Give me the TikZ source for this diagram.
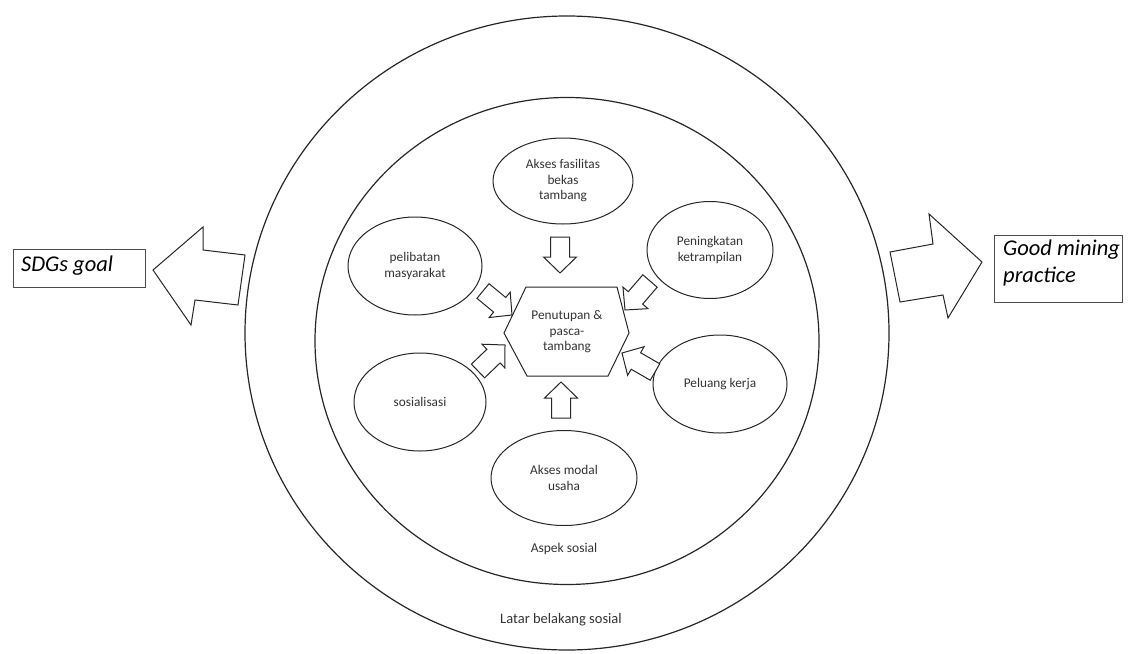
\documentclass[tikz,border=0pt]{standalone}
\usepackage{fontspec}
\setmainfont{Carlito}
\usetikzlibrary{shapes.geometric,calc}
\tikzset{
  ring/.style={draw=black!85,line width=1.2pt,ellipse,inner sep=0pt},
  topic/.style={draw=black!85,line width=1pt,ellipse,inner sep=0pt,align=center,
    font=\fontsize{13.3}{15.5}\selectfont,text=black!80},
  barrow/.style={draw=black!85,line width=1pt,fill=white,line join=miter},
  bigarrow/.style={draw=black!85,line width=1pt,fill=white},
  goaltext/.style={anchor=north west,align=left,font=\fontsize{22.5}{27}\selectfont\itshape,inner sep=0pt},
  ringlabel/.style={font=\fontsize{13.5}{15}\selectfont,text=black!80},
}
\newcommand\blockarr[2]{%
  \coordinate (hb) at ($(#2)!16pt!(#1)$);
  \draw[barrow] ($(#1)!9.5pt!90:(#2)$) -- ($(hb)!9.5pt!90:(#2)$) -- ($(hb)!16.5pt!90:(#2)$)
    -- (#2) -- ($(hb)!16.5pt!-90:(#2)$) -- ($(hb)!9.5pt!-90:(#2)$) -- ($(#1)!9.5pt!-90:(#2)$) -- cycle;}
\begin{document}
\begin{tikzpicture}[x=1pt,y=-1pt]
\useasboundingbox (0,0) rectangle (1132,653);
% rings
\node[ring,minimum width=644,minimum height=634] (outer) at (567,333) {};
\node[ring,minimum width=504,minimum height=487] (inner) at (567,341) {};
\node[ringlabel] (aspek) at (564,549) {Aspek sosial};
\node[ringlabel,font=\fontsize{14.5}{15}\selectfont] (latar) at (561,620) {Latar belakang sosial};
% hexagon
\draw[draw=black!85,line width=1pt] (504,333) -- (526,287) -- (617,287) -- (629,333) -- (608,376) -- (527,376) -- cycle;
\node[align=center,font=\fontsize{13.3}{15.5}\selectfont,text=black!80] (hex) at (567,332) {Penutupan \&\\pasca-\\tambang};
% topics
\node[topic,minimum width=140,minimum height=86] (fas) at (563,181) {Akses fasilitas\\bekas\\tambang};
\node[topic,minimum width=126,minimum height=97] (pen) at (710,250) {Peningkatan\\ketrampilan};
\node[topic,minimum width=134,minimum height=98] (pel) at (415,266) {pelibatan\\masyarakat};
\node[topic,minimum width=134,minimum height=98] (pel2) at (720,384) {Peluang kerja};
\node[topic,minimum width=132,minimum height=98] (sos) at (420,402) {sosialisasi};
\node[topic,minimum width=146,minimum height=95] (mod) at (564,478) {Akses modal\\usaha};
% small block arrows
\coordinate (t1) at (560,237); \coordinate (h1) at (560,273);
\coordinate (t2) at (561,418); \coordinate (h2) at (561,382);
\coordinate (t3) at (483,291); \coordinate (h3) at (512,315);
\coordinate (t4) at (650,281); \coordinate (h4) at (625,310);
\coordinate (t5) at (478,371); \coordinate (h5) at (505,345);
\coordinate (t6) at (655,372); \coordinate (h6) at (622,353);
\blockarr{t1}{h1}
\blockarr{t2}{h2}
\blockarr{t3}{h3}
\blockarr{t4}{h4}
\blockarr{t5}{h5}
\blockarr{t6}{h6}
% big arrows
\draw[bigarrow] (153,270) -- (203,227) -- (203,250) -- (245,255) -- (238,305) -- (195,300) -- (191,325) -- cycle;
\draw[bigarrow] (890,252) -- (933,244) -- (929,214) -- (982,262) -- (948,318) -- (943,295) -- (900,302) -- cycle;
% goal boxes
\draw[draw=black!70,line width=0.9pt] (13,249) rectangle (145,287);
\node[goaltext] (sdg) at (21,256) {SDGs goal};
\draw[draw=black!70,line width=0.9pt] (994,235) rectangle (1122,302);
\node[goaltext] (gmp) at (1003,240) {Good mining\\practice};
\end{tikzpicture}
\end{document}
